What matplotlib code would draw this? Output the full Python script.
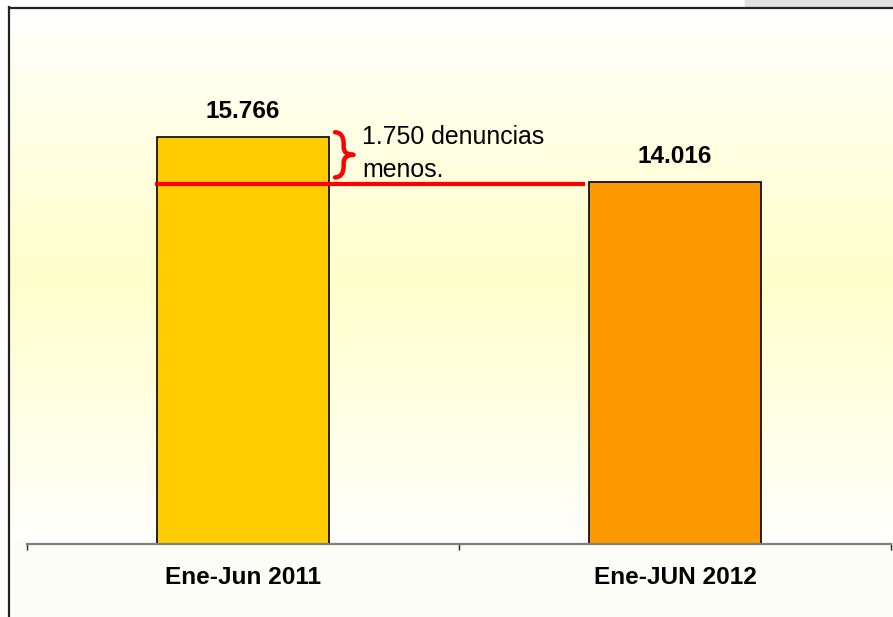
import numpy as np
import matplotlib.pyplot as plt
from matplotlib.path import Path
from matplotlib.patches import PathPatch, Rectangle
from matplotlib.lines import Line2D

categories = ['Ene-Jun 2011', 'Ene-JUN 2012']
values = [15766, 14016]
labels = ['15.766', '14.016']
bar_colors = ['#FFCC00', '#FF9900']
note = '1.750 denuncias\nmenos.'

plt.rcParams['font.family'] = ['Liberation Sans', 'DejaVu Sans']

W, H = 893, 617
fig = plt.figure(figsize=(W / 100, H / 100), dpi=100)
fig.patch.set_facecolor('#FDFDF8')

# background: white -> pale yellow -> near white inside the plot area
bg = fig.add_axes([0, 0, 1, 1], zorder=-10)
bg.set_xlim(0, 1)
bg.set_ylim(0, 1)
bg.set_axis_off()
t = np.linspace(0, 1, 300)
w = np.clip(np.where(t < 0.5, t / 0.5, (1 - t) / 0.5), 0, 1) ** 0.9
top = np.array([1.0, 1.0, 1.0])
peak = np.array([1.0, 1.0, 0.80])
img = top + (peak - top) * w[:, None, None]
img[-1:] = [0.99, 0.99, 0.96]
ya, yb = 1 - 7 / H, 1 - 544 / H
bg.imshow(img, aspect='auto', extent=[8 / W, 1, yb, ya], origin='upper')
bg.add_patch(Rectangle((745 / W, 1 - 6 / H), 1, 6 / H, color='#e0e0e0', zorder=3))
bg.add_patch(Rectangle((0, 1 - 7 / H), 1, 7 / H, color='white', zorder=2))
bg.add_patch(Rectangle((745 / W, 1 - 6 / H), 1, 6 / H, color='#e0e0e0', zorder=3))
bg.add_patch(Rectangle((0, 0), 8 / W, 1, color='white', zorder=2))

# frame lines
fig.add_artist(Line2D([8.5 / W, 8.5 / W], [0, 1 - 7 / H], color='#222222', lw=1.6))
fig.add_artist(Line2D([8.5 / W, 1], [1 - 7.5 / H, 1 - 7.5 / H], color='#222222', lw=1.6))

# main axes: x from 27 to 891 px, y from 544 (baseline) up to 7
x0, x1 = 27 / W, 891 / W
y0 = (H - 544) / H
y1 = (H - 7) / H
ax = fig.add_axes([x0, y0, x1 - x0, y1 - y0])
ax.patch.set_alpha(0)
scale = 407 / 15766  # px per unit
ax.set_ylim(0, (544 - 7) / scale)
ax.set_xlim(-0.5, 1.5)

x = np.arange(len(categories))
ax.bar(x, values, width=0.4, color=bar_colors, edgecolor='black', linewidth=1.2, zorder=2)

for xi, v, lab in zip(x, values, labels):
    ax.annotate(lab, (xi, v), xytext=(0, 13.7), textcoords='offset points',
                ha='center', va='baseline', fontsize=17.6, fontweight='bold')

# red reference line at the 2012 level
ax.plot([-0.204, 0.792], [values[1] - 60, values[1] - 60], color='#FF0000', lw=3, zorder=3,
        solid_capstyle='butt')

# red brace
bx0, bx1 = 0.213, 0.256
bxm = 0.233
ytop, ybot = 15950, 14200
ymid = (ytop + ybot) / 2
dy = 150
verts = [(bx0, ytop), (bxm, ytop), (bxm, ytop - 3 * dy),
         (bxm, ymid + 2 * dy),
         (bxm, ymid), (bx1, ymid),
         (bxm, ymid), (bxm, ymid - 2 * dy),
         (bxm, ybot + 3 * dy),
         (bxm, ybot), (bx0, ybot)]
codes = [Path.MOVETO, Path.CURVE3, Path.CURVE3,
         Path.LINETO,
         Path.CURVE3, Path.CURVE3,
         Path.CURVE3, Path.CURVE3,
         Path.LINETO,
         Path.CURVE3, Path.CURVE3]
ax.add_patch(PathPatch(Path(verts, codes), fill=False, edgecolor='#FF0000', lw=3.2,
                       capstyle='round', joinstyle='round', zorder=3))

ax.text(0.2765, 15120, note, ha='left', va='center', fontsize=17.9, linespacing=1.45)

# axes styling
for s in ['left', 'right', 'top']:
    ax.spines[s].set_visible(False)
ax.spines['bottom'].set_color('#808080')
ax.spines['bottom'].set_linewidth(1.6)
ax.set_yticks([])
ax.set_xticks(x)
ax.set_xticklabels(categories, fontsize=17.6, fontweight='bold')
ax.tick_params(axis='x', which='major', length=0, pad=16)
ax.set_xticks([-0.5, 0.5, 1.5], minor=True)
ax.tick_params(axis='x', which='minor', length=4, width=1, color='#222222', direction='out')

fig.savefig('out.png', dpi=100, facecolor=fig.get_facecolor())
